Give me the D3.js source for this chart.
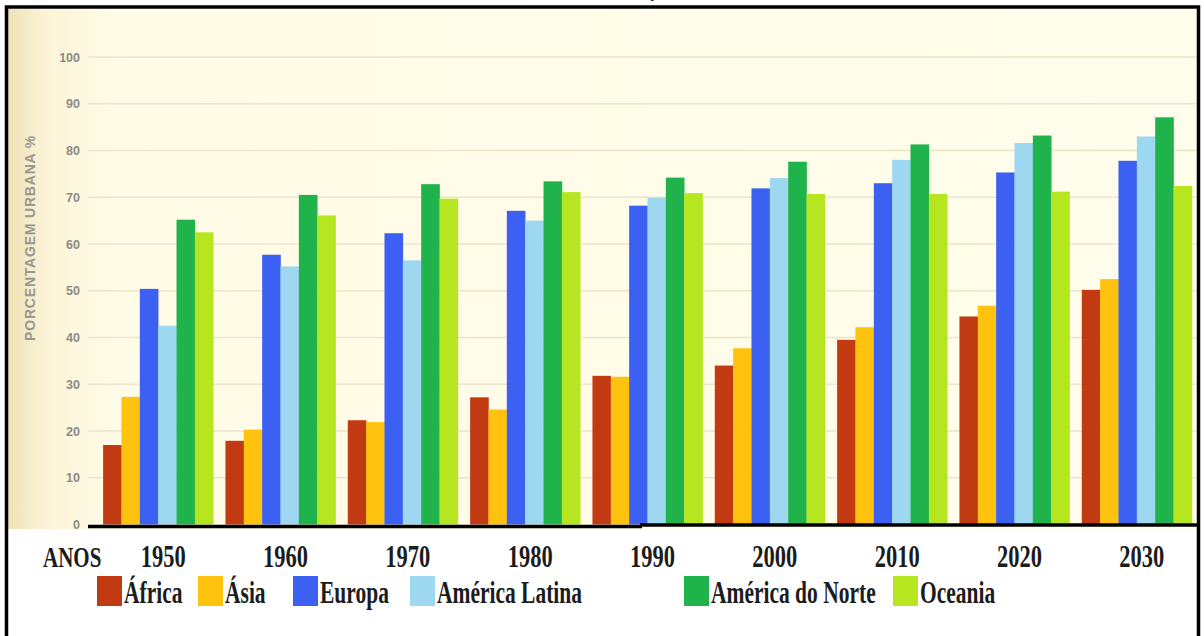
<!DOCTYPE html>
<html lang="pt">
<head>
<meta charset="utf-8">
<script src="https://cdn.jsdelivr.net/npm/d3@7"></script>
<style>
  html, body { margin: 0; padding: 0; background: #ffffff; }
  svg { display: block; }
</style>
</head>
<body>
<svg id="chart" width="1204" height="636"></svg>
<script>
// Porcentagem de população urbana por região, 1950–2030
const years = ["1950", "1960", "1970", "1980", "1990", "2000", "2010", "2020", "2030"];
const regions = ["África", "Ásia", "Europa", "América Latina", "América do Norte", "Oceania"];
const africa       = [17.0, 17.9, 22.3, 27.2, 31.8, 34.0, 39.5, 44.5, 50.2];
const asia         = [27.3, 20.3, 21.9, 24.6, 31.6, 37.7, 42.2, 46.8, 52.5];
const europe       = [50.4, 57.7, 62.3, 67.1, 68.2, 71.9, 73.0, 75.3, 77.8];
const latinAmerica = [42.5, 55.2, 56.5, 65.0, 69.9, 74.1, 78.0, 81.6, 83.0];
const northAmerica = [65.2, 70.5, 72.8, 73.4, 74.2, 77.6, 81.3, 83.2, 87.1];
const oceania      = [62.5, 66.1, 69.7, 71.1, 70.9, 70.7, 70.7, 71.2, 72.4];
const yTicks = [0, 10, 20, 30, 40, 50, 60, 70, 80, 90, 100];

const seriesValues = [africa, asia, europe, latinAmerica, northAmerica, oceania];
const colors = ["#c13a12", "#ffc30f", "#3b60f2", "#9dd8f0", "#20b34b", "#b6e620"];

// legend layout (swatch left edges)
const legendX = [97, 198, 293, 410, 684, 893];

const svg = d3.select("#chart");
const W = 1204, H = 636;

// background: cream paper tint over the plot, white below the axis
const defs = svg.append("defs");
const g1 = defs.append("linearGradient").attr("id", "paper").attr("x1", 0).attr("x2", 1).attr("y1", 0).attr("y2", 0);
g1.append("stop").attr("offset", "0").attr("stop-color", "#efe2b8");
g1.append("stop").attr("offset", "0.035").attr("stop-color", "#fbf5d8");
g1.append("stop").attr("offset", "0.09").attr("stop-color", "#fffbe6");
g1.append("stop").attr("offset", "1").attr("stop-color", "#fffdec");

svg.append("rect").attr("x", 0).attr("y", 0).attr("width", W).attr("height", H).attr("fill", "#ffffff");
svg.append("rect").attr("x", 8).attr("y", 9).attr("width", 1190).attr("height", 520).attr("fill", "url(#paper)");

const x0 = d3.scaleBand().domain(years).range([97, 1198]).paddingInner(0.1).paddingOuter(0.05);
const x1 = d3.scaleBand().domain(regions).range([0, x0.bandwidth()]).padding(0);
const y = d3.scaleLinear().domain([0, 100]).range([524.5, 57]);

// gridlines
svg.append("g")
  .selectAll("line")
  .data(yTicks.filter(d => d > 0))
  .join("line")
  .attr("x1", 88).attr("x2", 1198)
  .attr("y1", d => y(d)).attr("y2", d => y(d))
  .attr("stroke", "#ece5c9").attr("stroke-width", 1.5);

// y axis labels
const yAxis = d3.axisLeft(y).tickValues(yTicks).tickSize(0).tickPadding(0).tickFormat(d3.format("d"));
const ya = svg.append("g").attr("transform", "translate(80,0)").call(yAxis);
ya.select(".domain").remove();
ya.selectAll("text")
  .attr("font-family", "'Liberation Sans', Arial, sans-serif")
  .attr("font-weight", "bold")
  .attr("font-size", 12.5)
  .attr("fill", "#8c8a86");

// y axis title
svg.append("text")
  .attr("transform", "translate(35,238) rotate(-90)")
  .attr("text-anchor", "middle")
  .attr("font-family", "'Liberation Sans', Arial, sans-serif")
  .attr("font-weight", "bold")
  .attr("font-size", 14)
  .attr("letter-spacing", 0.8)
  .attr("fill", "#9a9893")
  .text("PORCENTAGEM URBANA %");

// bars
const groups = svg.append("g")
  .selectAll("g")
  .data(years)
  .join("g")
  .attr("transform", d => `translate(${x0(d)},0)`);

groups.selectAll("rect")
  .data((d, i) => regions.map((r, k) => ({ region: r, value: seriesValues[k][i], color: colors[k] })))
  .join("rect")
  .attr("x", d => x1(d.region))
  .attr("y", d => y(d.value))
  .attr("width", x1.bandwidth() + 0.3)
  .attr("height", d => y(0) - y(d.value))
  .attr("fill", d => d.color);

// baseline (drawn in two pieces, the right piece sits slightly higher)
svg.append("line").attr("x1", 88).attr("x2", 642).attr("y1", 526.5).attr("y2", 526.5)
  .attr("stroke", "#000").attr("stroke-width", 3.5);
svg.append("line").attr("x1", 640).attr("x2", 1199).attr("y1", 525).attr("y2", 525)
  .attr("stroke", "#000").attr("stroke-width", 3.5);

// year labels
const serif = "'Liberation Serif', 'Times New Roman', serif";
svg.append("text")
  .attr("transform", "translate(43,567) scale(1,1.38)")
  .attr("font-family", serif).attr("font-weight", "bold").attr("font-size", 21)
  .attr("fill", "#1c1c1c")
  .text("ANOS");

svg.append("g")
  .selectAll("text")
  .data(years)
  .join("text")
  .attr("transform", d => `translate(${x0(d) + x0.bandwidth() / 2 + 5},567) scale(1,1.38)`)
  .attr("text-anchor", "middle")
  .attr("font-family", serif).attr("font-weight", "bold").attr("font-size", 22.5)
  .attr("fill", "#1c1c1c")
  .text(d => d);

// legend
const leg = svg.append("g")
  .selectAll("g")
  .data(regions)
  .join("g")
  .attr("transform", (d, i) => `translate(${legendX[i]},576)`);
leg.append("rect")
  .attr("x", 0).attr("y", 0).attr("width", 25).attr("height", 30)
  .attr("fill", (d, i) => colors[i]);
leg.append("text")
  .attr("transform", "translate(27,27) scale(1,1.42)")
  .attr("font-family", serif).attr("font-weight", "bold").attr("font-size", 21.5)
  .attr("fill", "#1c1c1c")
  .text(d => d);

// frame
svg.append("rect").attr("x", 6.5).attr("y", 7).attr("width", 1192).attr("height", 700)
  .attr("fill", "none").attr("stroke", "#000").attr("stroke-width", 3.5);

// clipped heading remnant at the very top
svg.append("text")
  .attr("x", 652).attr("y", -3)
  .attr("text-anchor", "middle")
  .attr("font-family", serif).attr("font-weight", "bold").attr("font-size", 16)
  .attr("fill", "#000")
  .text("Ç");
</script>
</body>
</html>
